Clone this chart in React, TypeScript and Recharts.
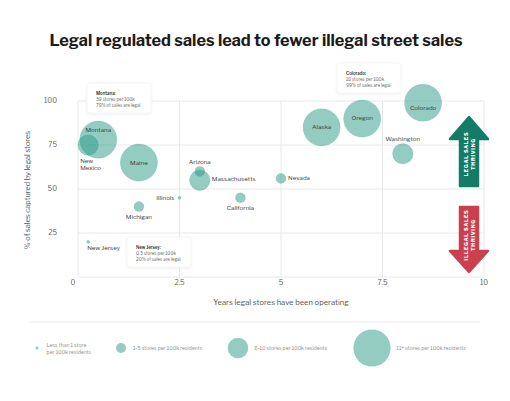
import { ScatterChart, Scatter, XAxis, YAxis, CartesianGrid } from 'recharts';

const states = [
  'Montana',
  'New Mexico',
  'Maine',
  'Michigan',
  'New Jersey',
  'Illinois',
  'Arizona',
  'Massachusetts',
  'California',
  'Nevada',
  'Alaska',
  'Oregon',
  'Colorado',
  'Washington',
];
const yearsOperating = [0.5, 0.25, 1.5, 1.5, 0.25, 2.5, 3, 3, 4, 5, 6, 7, 8.5, 8];
const legalShare = [78, 75, 65, 40, 20, 45, 60, 55, 45, 56, 85, 90, 99, 70];
// 0: <1 store, 1: 1-5, 2: 6-10, 3: 11+ stores per 100k
const storeTier = [3, 2, 3, 1, 0, 0, 1, 2, 1, 1, 3, 3, 3, 2];

const tierLabels = [
  ['Less than 1 store', 'per 100k residents'],
  ['1-5 stores per 100k residents'],
  ['6-10 stores per 100k residents'],
  ['11+ stores per 100k residents'],
];

const xTicks = [0, 2.5, 5, 7.5, 10];
const yTicks = [0, 25, 50, 75, 100];

const calloutStates = ['Montana', 'Colorado', 'New Jersey'];
const calloutStores = ['39', '18', '0.3'];
const calloutLegal = [79, 99, 20];

const data = states.map((name, i) => ({
  name,
  x: yearsOperating[i],
  y: legalShare[i],
  tier: storeTier[i],
}));

const FONT = "'Libre Franklin', Inter, 'Noto Sans', sans-serif";
const BUBBLE = '#2a9a86';
const GRID = '#e2e2e2';
const TIER_RADIUS = [1.6, 5, 10.3, 18.6];

type Anchor = 'start' | 'middle' | 'end';
const LABEL_POS: Record<string, { anchor: Anchor; dx: number; dy: number }> = {
  Montana: { anchor: 'middle', dx: 0, dy: -10 },
  'New Mexico': { anchor: 'start', dx: -8, dy: 16 },
  Maine: { anchor: 'middle', dx: 0, dy: 0 },
  Michigan: { anchor: 'middle', dx: 0, dy: 10 },
  'New Jersey': { anchor: 'start', dx: -1, dy: 6 },
  Illinois: { anchor: 'end', dx: -5, dy: 0 },
  Arizona: { anchor: 'middle', dx: 0, dy: -9 },
  Massachusetts: { anchor: 'start', dx: 12, dy: -1 },
  California: { anchor: 'middle', dx: 0, dy: 10 },
  Nevada: { anchor: 'start', dx: 7, dy: 0 },
  Alaska: { anchor: 'middle', dx: 0, dy: 0 },
  Oregon: { anchor: 'middle', dx: 0, dy: -1 },
  Colorado: { anchor: 'middle', dx: 0, dy: 5 },
  Washington: { anchor: 'middle', dx: 0, dy: -15 },
};

const CALLOUT_BOX: Record<string, { x: number; y: number }> = {
  Montana: { x: 87, y: 83 },
  Colorado: { x: 337, y: 63 },
  'New Jersey': { x: 127, y: 237 },
};

function Bubble(props: any) {
  const { cx, cy, payload } = props;
  if (cx == null || cy == null) return null;
  return (
    <circle
      cx={cx}
      cy={cy}
      r={TIER_RADIUS[payload.tier]}
      fill={BUBBLE}
      fillOpacity={0.5}
      stroke={BUBBLE}
      strokeOpacity={0.25}
      strokeWidth={0.6}
    />
  );
}

function BubbleLabel(props: any) {
  const { cx, cy, payload } = props;
  if (cx == null || cy == null) return null;
  const pos = LABEL_POS[payload.name];
  const lines = payload.name === 'New Mexico' ? ['New', 'Mexico'] : [payload.name];
  return (
    <text
      x={cx + pos.dx}
      y={cy + pos.dy}
      textAnchor={pos.anchor}
      dominantBaseline="central"
      fontFamily={FONT}
      fontSize={6.2}
      fill="#3a3a3a"
    >
      {lines.map((l, i) => (
        <tspan key={l} x={cx + pos.dx} dy={i === 0 ? 0 : 7}>
          {l}
        </tspan>
      ))}
    </text>
  );
}

function XTick(props: any) {
  const { x, y, payload } = props;
  return (
    <text
      x={payload.value === 0 ? x - 5 : x}
      y={y}
      dy="0.71em"
      textAnchor="middle"
      fontFamily={FONT}
      fontSize={7}
      fill="#5c5c5c"
    >
      {payload.value}
    </text>
  );
}

function YTick(props: any) {
  const { x, y, payload } = props;
  if (payload.value === 0) return null;
  return (
    <text
      x={x}
      y={y}
      dy="0.35em"
      textAnchor="end"
      fontFamily={FONT}
      fontSize={7}
      fill="#5c5c5c"
    >
      {payload.value}
    </text>
  );
}

function Callout({ index }: { index: number }) {
  const name = calloutStates[index];
  const box = CALLOUT_BOX[name];
  return (
    <g>
      <rect
        x={box.x}
        y={box.y}
        width={64}
        height={30}
        rx={3}
        fill="#fff"
        stroke="#f0f0f0"
        strokeWidth={0.6}
        filter="url(#shadow)"
      />
      <text fontFamily={FONT} fontSize={4.4} fill="#666">
        <tspan x={box.x + 9} y={box.y + 11.5} fontWeight={600} fill="#333">
          {name}:
        </tspan>
        <tspan x={box.x + 9} y={box.y + 17.5}>
          {calloutStores[index]} stores per 100k
        </tspan>
        <tspan x={box.x + 9} y={box.y + 23.8}>
          {calloutLegal[index]}% of sales are legal
        </tspan>
      </text>
    </g>
  );
}

function Arrows() {
  const cx = 469;
  return (
    <g fontFamily={FONT} fontSize={5.2} fontWeight={800} fill="#fff" letterSpacing={0.7}>
      <polygon
        points={`${cx},117 488,139 478,139 478,186 460,186 460,139 450,139`}
        fill="#137b66"
        stroke="#137b66"
        strokeWidth={2.5}
        strokeLinejoin="round"
      />
      <text transform={`translate(${cx} 154) rotate(-90)`} textAnchor="middle">
        <tspan x={0} y={-1}>LEGAL SALES</tspan>
        <tspan x={0} y={5.5}>THRIVING</tspan>
      </text>
      <polygon
        points={`460,207 478,207 478,251 488,251 ${cx},272 450,251 460,251`}
        fill="#c9414e"
        stroke="#c9414e"
        strokeWidth={2.5}
        strokeLinejoin="round"
      />
      <text transform={`translate(${cx} 235) rotate(-90)`} textAnchor="middle">
        <tspan x={0} y={-1}>ILLEGAL SALES</tspan>
        <tspan x={0} y={5.5}>THRIVING</tspan>
      </text>
    </g>
  );
}

function LegendRow() {
  const xs = [37, 121, 238, 372];
  const gaps = [8, 7, 6, 6];
  return (
    <g fontFamily={FONT} fontSize={5.1} fill="#8c8c8c">
      <line x1={30} y1={322} x2={480} y2={322} stroke="#e6e6e6" strokeWidth={0.8} />
      {tierLabels.map((lines, i) => {
        const r = TIER_RADIUS[i];
        const tx = xs[i] + r + gaps[i];
        return (
          <g key={i}>
            <circle cx={xs[i]} cy={348} r={r} fill={BUBBLE} fillOpacity={0.5} />
            <text x={tx} y={348} dominantBaseline="central">
              {lines.map((l, j) => (
                <tspan key={l} x={tx} dy={lines.length > 1 ? (j === 0 ? -3.5 : 7) : 0}>
                  {l}
                </tspan>
              ))}
            </text>
          </g>
        );
      })}
    </g>
  );
}

export default function App() {
  return (
    <div style={{ position: 'absolute', left: 0, top: 0, width: 510, height: 401, background: '#fff' }}>
      <ScatterChart
        width={510}
        height={401}
        margin={{ top: 101, right: 26, bottom: 0, left: 0 }}
      >
        <CartesianGrid stroke={GRID} strokeWidth={0.8} />
        <XAxis
          type="number"
          dataKey="x"
          domain={[0, 10]}
          ticks={xTicks}
          height={124}
          axisLine={false}
          tickLine={false}
          tickSize={0}
          tickMargin={3}
          tick={<XTick />}
          interval={0}
        />
        <YAxis
          type="number"
          dataKey="y"
          domain={[0, 100]}
          ticks={yTicks}
          width={78}
          axisLine={false}
          tickLine={false}
          tickSize={0}
          tickMargin={21}
          tick={<YTick />}
          interval={0}
        />
        <Scatter data={data} shape={<Bubble />} isAnimationActive={false} />
        <Scatter data={data} shape={<BubbleLabel />} isAnimationActive={false} />
      </ScatterChart>
      <svg
        width={510}
        height={401}
        style={{ position: 'absolute', left: 0, top: 0, pointerEvents: 'none' }}
      >
        <defs>
          <filter id="shadow" x="-20%" y="-30%" width="140%" height="160%">
            <feDropShadow dx={0} dy={1} stdDeviation={1.5} floodColor="#000" floodOpacity={0.08} />
          </filter>
        </defs>
        <text
          x={256}
          y={46}
          textAnchor="middle"
          fontFamily={FONT}
          fontSize={15.5}
          fontWeight={700}
          fill="#1b1b1b"
          textLength={413}
          lengthAdjust="spacingAndGlyphs"
        >
          Legal regulated sales lead to fewer illegal street sales
        </text>
        <text
          transform="translate(27 190) rotate(-90)"
          textAnchor="middle"
          dominantBaseline="central"
          fontFamily={FONT}
          fontSize={7.4}
          fill="#555"
        >
          % of sales captured by legal stores
        </text>
        <text
          x={281}
          y={302}
          textAnchor="middle"
          dominantBaseline="central"
          fontFamily={FONT}
          fontSize={7.6}
          fill="#555"
        >
          Years legal stores have been operating
        </text>
        {calloutStates.map((s, i) => (
          <Callout key={s} index={i} />
        ))}
        <Arrows />
        <LegendRow />
      </svg>
    </div>
  );
}
